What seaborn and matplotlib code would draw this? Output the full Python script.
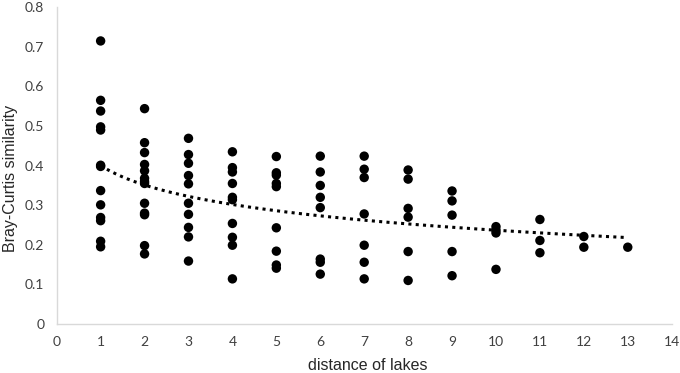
import numpy as np
import pandas as pd
import matplotlib
matplotlib.use("Agg")
import matplotlib.pyplot as plt
import seaborn as sns

# Data
d1 = [0.715, 0.565, 0.538, 0.498, 0.490, 0.401, 0.398, 0.337, 0.301, 0.269, 0.261, 0.209, 0.195]
d2 = [0.544, 0.458, 0.433, 0.403, 0.387, 0.368, 0.360, 0.355, 0.305, 0.280, 0.276, 0.198, 0.177]
d3 = [0.469, 0.428, 0.406, 0.375, 0.354, 0.305, 0.277, 0.244, 0.220, 0.159]
d4 = [0.435, 0.395, 0.384, 0.355, 0.320, 0.314, 0.254, 0.219, 0.199, 0.114]
d5 = [0.423, 0.382, 0.376, 0.355, 0.347, 0.243, 0.184, 0.149, 0.141]
d6 = [0.424, 0.384, 0.350, 0.320, 0.294, 0.164, 0.156, 0.126]
d7 = [0.424, 0.391, 0.370, 0.278, 0.199, 0.156, 0.114]
d8 = [0.389, 0.366, 0.292, 0.270, 0.183, 0.110]
d9 = [0.336, 0.311, 0.275, 0.183, 0.122]
d10 = [0.246, 0.237, 0.230, 0.138]
d11 = [0.264, 0.211, 0.180]
d12 = [0.221, 0.194]
d13 = [0.194]

groups = [d1, d2, d3, d4, d5, d6, d7, d8, d9, d10, d11, d12, d13]
distances = list(range(1, 14))

x_ticks = list(range(0, 15))
y_ticks = [0, 0.1, 0.2, 0.3, 0.4, 0.5, 0.6, 0.7, 0.8]
y_tick_labels = ["0", "0.1", "0.2", "0.3", "0.4", "0.5", "0.6", "0.7", "0.8"]

df = pd.DataFrame({
    "distance": [d for d, g in zip(distances, groups) for _ in g],
    "similarity": [v for g in groups for v in g],
})

sns.set_theme(style="white")
plt.rcParams["font.family"] = ["Liberation Sans", "DejaVu Sans"]

fig = plt.figure(figsize=(6.8, 3.73), dpi=100)
ax = fig.add_axes([56.7 / 680, (373 - 324) / 373, (671.7 - 56.7) / 680, (324 - 7.3) / 373])

sns.scatterplot(data=df, x="distance", y="similarity", ax=ax, color="black",
                s=46, edgecolor="none", linewidth=0, zorder=3, legend=False)

# logarithmic trendline fitted on the data
b, a = np.polyfit(np.log(df["distance"]), df["similarity"], 1)
xs = np.linspace(1, 13, 200)
ax.plot(xs, a + b * np.log(xs), color="black", linestyle=(0, (1, 1.4)), linewidth=2.2, zorder=2)

ax.set_xlim(0, 14)
ax.set_ylim(0, 0.8)
ax.set_xticks(x_ticks)
ax.set_xticklabels([str(t) for t in x_ticks], fontfamily="Lato", fontsize=10, color="#404040")
ax.set_yticks(y_ticks)
ax.set_yticklabels(y_tick_labels, fontfamily="Lato", fontsize=10, color="#404040")
ax.tick_params(axis="both", length=0)
ax.tick_params(axis="x", pad=9)
ax.tick_params(axis="y", pad=9)

for side in ["top", "right"]:
    ax.spines[side].set_visible(False)
for side in ["left", "bottom"]:
    ax.spines[side].set_color("#d9d9d9")
    ax.spines[side].set_linewidth(1.0)

ax.set_xlabel("distance of lakes", fontsize=11.5, color="#262626")
ax.set_ylabel("Bray-Curtis similarity", fontsize=11.5, color="#262626")
ax.xaxis.set_label_coords((368 - 56.7) / 615, -(370 - 324) / 316.7, transform=ax.transAxes)
ax.xaxis.label.set_va("baseline")
ax.yaxis.set_label_coords(-(56.7 - 3) / 615, (324 - 178) / 316.7, transform=ax.transAxes)
ax.yaxis.label.set_va("top")

fig.savefig("out.png", dpi=100)
